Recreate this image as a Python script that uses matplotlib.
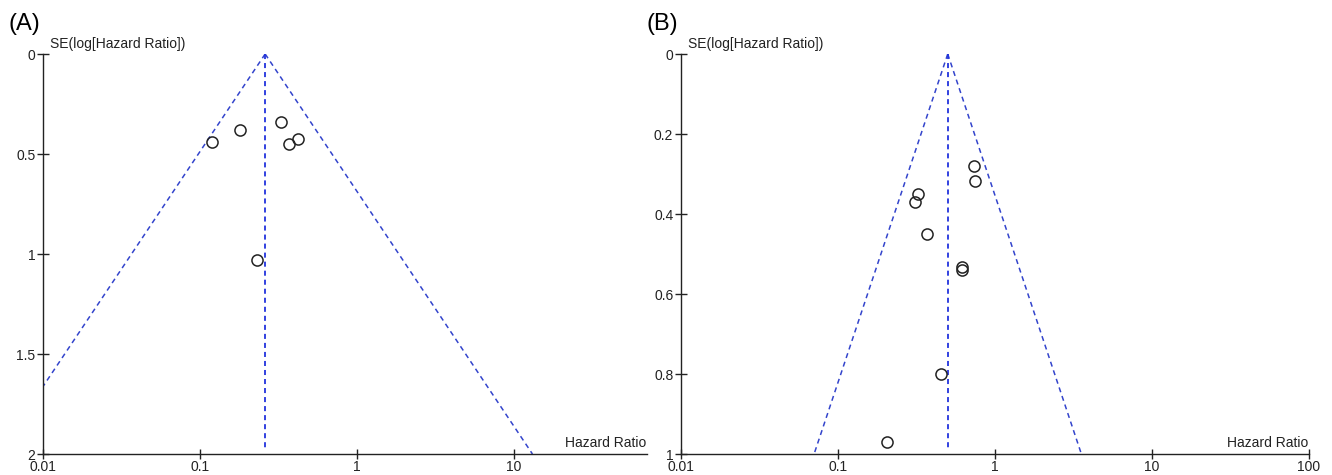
import numpy as np
import matplotlib
matplotlib.use("Agg")
import matplotlib.pyplot as plt

plt.rcParams['font.family'] = ['Liberation Sans', 'DejaVu Sans']

# Painel A: estudos (HR, SE)
hr_a = [0.119, 0.180, 0.328, 0.369, 0.420, 0.231]
se_a = [0.438, 0.378, 0.338, 0.448, 0.423, 1.030]
pooled_a = 0.26
ymax_a = 2.0
yticks_a = [0, 0.5, 1, 1.5, 2]
yticklabels_a = ['0', '0.5', '1', '1.5', '2']
xticks_a = [0.01, 0.1, 1, 10]
xticklabels_a = ['0.01', '0.1', '1', '10']

# Painel B
hr_b = [0.736, 0.745, 0.324, 0.308, 0.371, 0.618, 0.615, 0.456, 0.205]
se_b = [0.279, 0.318, 0.349, 0.370, 0.449, 0.533, 0.541, 0.801, 0.971]
pooled_b = 0.50
ymax_b = 1.0
yticks_b = [0, 0.2, 0.4, 0.6, 0.8, 1]
yticklabels_b = ['0', '0.2', '0.4', '0.6', '0.8', '1']
xticks_b = [0.01, 0.1, 1, 10, 100]
xticklabels_b = ['0.01', '0.1', '1', '10', '100']

blue = '#3344cc'
fig = plt.figure(figsize=(13.32, 4.75), dpi=100)

ax_a = fig.add_axes([43/1332, 1-454/475, 604/1332, 400/475])
ax_b = fig.add_axes([681/1332, 1-454/475, 628/1332, 400/475])


def funnel(ax, hr, se, pooled, ymax, xlim, yticks, yticklabels, xticks, xticklabels, tag):
    s = np.array([0, ymax])
    # limites de 95% do funil
    ax.plot(pooled*np.exp(-1.96*s), s, color=blue, lw=1.1, ls=(0, (3.3, 2.6)))
    ax.plot(pooled*np.exp(1.96*s), s, color=blue, lw=1.1, ls=(0, (3.3, 2.6)))
    ax.plot([pooled, pooled], [0, ymax*0.985], color='#2233dd', lw=1.3, ls=(0, (2.8, 2.2)))
    ax.plot(hr, se, 'o', mfc='none', mec='#222222', mew=1.1, ms=8, clip_on=False)
    ax.set_xscale('log')
    ax.set_xlim(*xlim)
    ax.set_ylim(ymax, 0)
    ax.set_xticks(xticks)
    ax.set_xticklabels(xticklabels)
    ax.set_yticks(yticks)
    ax.set_yticklabels(yticklabels)
    ax.minorticks_off()
    for sp in ['top', 'right']:
        ax.spines[sp].set_visible(False)
    for sp in ['left', 'bottom']:
        ax.spines[sp].set_linewidth(1.0)
        ax.spines[sp].set_color('#222222')
    ax.tick_params(axis='y', direction='inout', length=8, width=1.0, pad=1.5,
                   labelsize=10, colors='#222222')
    ax.tick_params(axis='x', direction='inout', length=6.5, width=1.0, pad=1,
                   labelsize=10, colors='#222222')
    ax.annotate('SE(log[Hazard Ratio])', xy=(0, 1), xycoords='axes fraction',
                xytext=(7, 3), textcoords='offset pixels', ha='left', va='bottom',
                fontsize=10, color='#222222')
    ax.annotate('Hazard Ratio', xy=(1, 0), xycoords='axes fraction',
                xytext=(-1, 4), textcoords='offset pixels', ha='right', va='bottom',
                fontsize=10, color='#222222')
    pos = ax.get_position()
    fig.text(pos.x0 - 35/1332, 1 - 24/475, tag, fontsize=17, ha='left', va='center')


funnel(ax_a, hr_a, se_a, pooled_a, ymax_a, (0.01, 10**1.847), yticks_a, yticklabels_a,
       xticks_a, xticklabels_a, '(A)')
funnel(ax_b, hr_b, se_b, pooled_b, ymax_b, (0.01, 100), yticks_b, yticklabels_b,
       xticks_b, xticklabels_b, '(B)')

plt.savefig('out.png', dpi=100)
